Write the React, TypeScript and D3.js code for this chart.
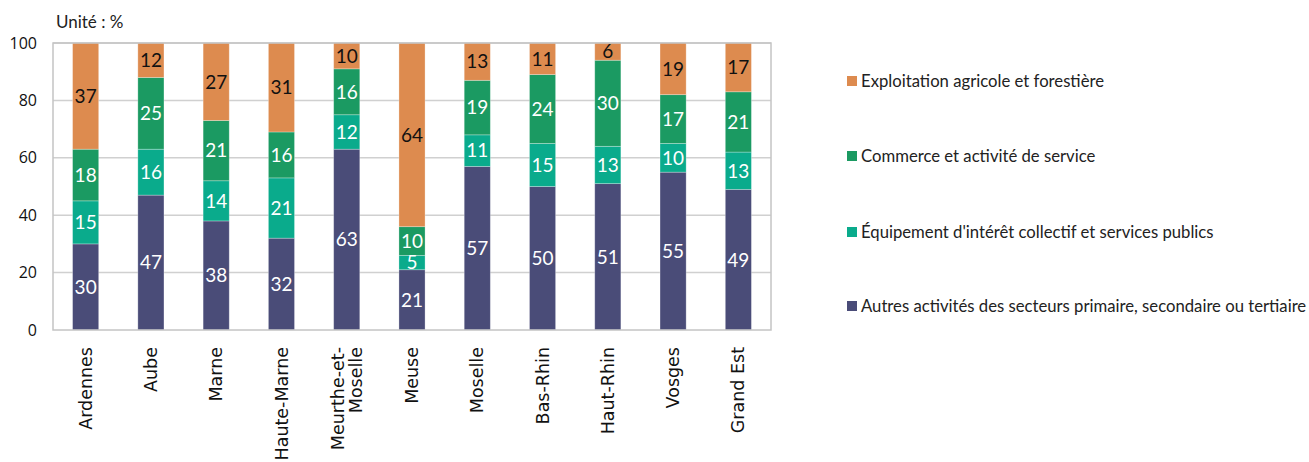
import React, { useEffect, useRef } from "react";
import * as d3 from "d3";

// departements (Grand Est)
const categories = [
  "Ardennes", "Aube", "Marne", "Haute-Marne", "Meurthe-et-Moselle", "Meuse",
  "Moselle", "Bas-Rhin", "Haut-Rhin", "Vosges", "Grand Est",
];
const autres = [30, 47, 38, 32, 63, 21, 57, 50, 51, 55, 49];
const equipement = [15, 16, 14, 21, 12, 5, 11, 15, 13, 10, 13];
const commerce = [18, 25, 21, 16, 16, 10, 19, 24, 30, 17, 21];
const exploitation = [37, 12, 27, 31, 10, 64, 13, 11, 6, 19, 17];
const seriesNames = [
  "Autres activités des secteurs primaire, secondaire ou tertiaire",
  "Équipement d'intérêt collectif et services publics",
  "Commerce et activité de service",
  "Exploitation agricole et forestière",
];
const colors = ["#4a4c78", "#0aab8c", "#1b9a62", "#dd8b4f"];
const labelColors = ["#fff", "#fff", "#fff", "#111"];
const yTicks = [0, 20, 40, 60, 80, 100];

export default function App() {
  const ref = useRef<SVGSVGElement>(null);

  useEffect(() => {
    const svg = d3.select(ref.current);
    svg.selectAll("*").remove();

    const left = 53, right = 771, top = 43, bottom = 330;

    const x = d3.scaleBand<string>()
      .domain(categories)
      .range([left, right])
      .paddingInner(0.6)
      .paddingOuter(0.3);
    const y = d3.scaleLinear().domain([0, 100]).range([bottom, top]);

    const rows = categories.map((c, i) => ({
      cat: c, s0: autres[i], s1: equipement[i], s2: commerce[i], s3: exploitation[i],
    }));
    const stack = d3.stack<any>().keys(["s0", "s1", "s2", "s3"])(rows);

    // clip so rounding (sums of 101) stays inside the frame
    svg.append("defs").append("clipPath").attr("id", "plotclip")
      .append("rect").attr("x", left).attr("y", top)
      .attr("width", right - left).attr("height", bottom - top);

    // gridlines
    svg.append("g")
      .selectAll("line")
      .data(yTicks.slice(1))
      .enter()
      .append("line")
      .attr("x1", left).attr("x2", right)
      .attr("y1", d => y(d)).attr("y2", d => y(d))
      .attr("stroke", "#d0d0d0").attr("stroke-width", 1.5);

    // y labels
    svg.append("g")
      .selectAll("text")
      .data(yTicks)
      .enter()
      .append("text")
      .attr("x", 37).attr("y", d => y(d))
      .attr("dy", "0.35em")
      .attr("text-anchor", "end")
      .attr("font-family", "Open Sans, sans-serif")
      .attr("font-size", 16)
      .attr("fill", "#111")
      .text(d => d);

    svg.append("text")
      .attr("x", 56).attr("y", 28)
      .attr("font-family", "Lato, sans-serif")
      .attr("font-size", 17)
      .attr("fill", "#222")
      .text("Unité : %");

    // bars
    const g = svg.append("g").attr("clip-path", "url(#plotclip)");
    stack.forEach((layer, k) => {
      g.append("g")
        .selectAll("rect")
        .data(layer)
        .enter()
        .append("rect")
        .attr("x", d => x(d.data.cat)!)
        .attr("width", x.bandwidth())
        .attr("y", d => y(d[1]))
        .attr("height", d => y(d[0]) - y(d[1]))
        .attr("fill", colors[k])
        .attr("stroke", "#ffffff")
        .attr("stroke-opacity", 0.35)
        .attr("stroke-width", 0.8);
    });

    // value labels
    stack.forEach((layer, k) => {
      svg.append("g")
        .selectAll("text")
        .data(layer)
        .enter()
        .append("text")
        .attr("x", d => x(d.data.cat)! + x.bandwidth() / 2)
        .attr("y", d => y((d[0] + Math.min(d[1], 100)) / 2))
        .attr("dy", "0.36em")
        .attr("text-anchor", "middle")
        .attr("font-family", "Lato, sans-serif")
        .attr("font-size", 19)
        .attr("fill", labelColors[k])
        .text(d => d[1] - d[0]);
    });

    // frame
    svg.append("rect")
      .attr("x", left).attr("y", top)
      .attr("width", right - left).attr("height", bottom - top)
      .attr("fill", "none")
      .attr("stroke", "#c4c4c4").attr("stroke-width", 1.5);

    // category labels, rotated
    const lh = 18;
    const cl = svg.append("g")
      .selectAll("text")
      .data(categories)
      .enter()
      .append("text")
      .attr("transform", d => `translate(${x(d)! + x.bandwidth() / 2},347) rotate(-90)`)
      .attr("text-anchor", "end")
      .attr("font-family", "DejaVu Sans, sans-serif")
      .attr("font-size", 17.5)
      .attr("fill", "#111");
    cl.each(function (d) {
      const lines = d === "Meurthe-et-Moselle" ? ["Meurthe-et-", "Moselle"] : [d];
      const t = d3.select(this);
      lines.forEach((ln, i) => {
        t.append("tspan")
          .attr("x", 0)
          .attr("y", (i - (lines.length - 1) / 2) * lh)
          .attr("dy", "0.35em")
          .text(ln);
      });
    });

    // legend
    const legendY = [306, 232, 156, 81];
    const lg = svg.append("g")
      .selectAll("g")
      .data(seriesNames)
      .enter()
      .append("g")
      .attr("transform", (d, i) => `translate(847,${legendY[i]})`);
    lg.append("rect")
      .attr("x", 0).attr("y", -5)
      .attr("width", 10).attr("height", 10)
      .attr("fill", (d, i) => colors[i]);
    lg.append("text")
      .attr("x", 14).attr("dy", "0.35em")
      .attr("font-family", "Lato, sans-serif")
      .attr("font-size", 16.7)
      .attr("fill", "#222")
      .text(d => d);
  }, []);

  return (
    <svg
      ref={ref}
      width={1309}
      height={462}
      style={{ position: "absolute", left: 0, top: 0, background: "#fff" }}
    />
  );
}
